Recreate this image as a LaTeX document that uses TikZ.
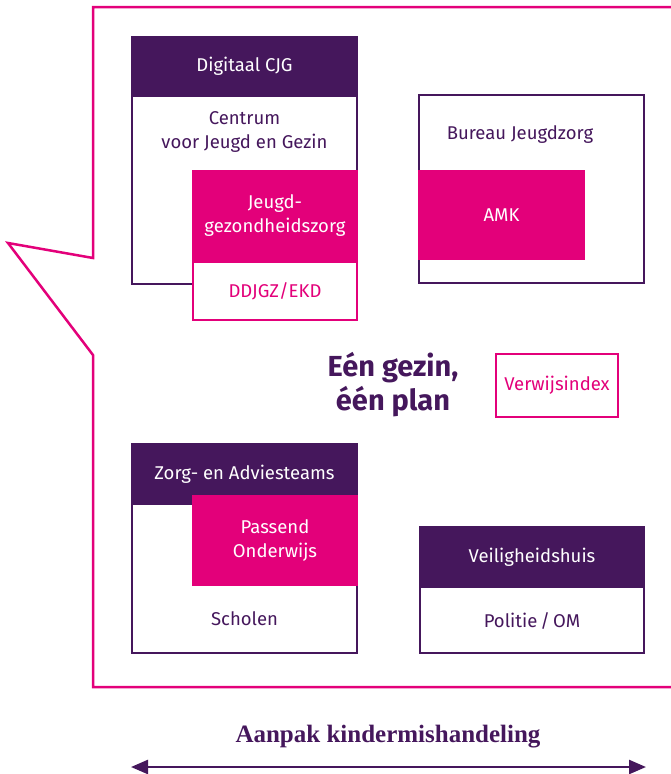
\documentclass[tikz,border=0pt]{standalone}
\usepackage{fontspec}
\setmainfont{Fira Sans}
\newfontfamily\serifb{Liberation Serif}
\usetikzlibrary{arrows.meta}
\definecolor{kpurple}{RGB}{69,23,92}
\definecolor{kpink}{RGB}{227,0,122}
\tikzset{
  txt/.style={font=\fontsize{18.5}{24}\selectfont},
  outbox/.style={draw=kpurple, line width=2pt, fill=white, inner sep=0pt},
  headbox/.style={fill=kpurple, draw=none, text=white, inner sep=0pt, align=center, txt},
  pinkbox/.style={fill=kpink, draw=none, text=white, inner sep=0pt, align=center, txt},
  pinkline/.style={draw=kpink, line width=2pt, fill=white, text=kpink, inner sep=0pt, align=center, txt},
  lbl/.style={text=kpurple, align=center, inner sep=0pt, txt},
}
\begin{document}
\begin{tikzpicture}[x=1pt,y=-1pt]
\useasboundingbox[fill=white] (0,0) rectangle (670,774);
% speech bubble
\draw[kpink, line width=2.5pt, line join=miter] (672,7) -- (93,7) -- (93,258) -- (8,243) -- (93,355) -- (93,687) -- (672,687);
% CJG
\node[outbox, minimum width=225pt, minimum height=247pt] (cjgbody) at (244.5,160) {};
\node[headbox, minimum width=227pt, minimum height=61pt] (cjghead) at (244.5,66.5) {Digitaal CJG};
\node[lbl] (cjgtext) at (244.5,132) {Centrum\\voor Jeugd en Gezin};
\node[pinkbox, minimum width=166pt, minimum height=92pt] (jgz) at (275,216) {Jeugd-\\gezondheidszorg};
\node[pinkline, minimum width=164pt, minimum height=58pt] (ddjgz) at (275,291) {DDJGZ/EKD};
% Bureau Jeugdzorg
\node[outbox, minimum width=225pt, minimum height=188pt] (bjz) at (531.5,189) {};
\node[lbl] (bjztext) at (520,135) {Bureau Jeugdzorg};
\node[pinkbox, minimum width=167pt, minimum height=90pt] (amk) at (501.5,215) {AMK};
% title
\node[text=kpurple, align=center, inner sep=0pt, font=\fontsize{29}{34}\selectfont\bfseries] (title) at (393,385) {Eén gezin,\\één plan};
\node[pinkline, minimum width=122pt, minimum height=63pt] (verwijs) at (557,385.5) {Verwijsindex};
% Zorg- en Adviesteams
\node[outbox, minimum width=225pt, minimum height=209pt] (zatbody) at (244.5,548.5) {};
\node[headbox, minimum width=227pt, minimum height=61pt] (zathead) at (244.5,474.5) {Zorg- en Adviesteams};
\node[pinkbox, minimum width=166pt, minimum height=91pt] (passend) at (275,540.5) {Passend\\Onderwijs};
\node[lbl] (scholen) at (244.5,619) {Scholen};
% Veiligheidshuis
\node[outbox, minimum width=224pt, minimum height=126pt] (vhbody) at (532,590) {};
\node[headbox, minimum width=226pt, minimum height=61pt] (vhhead) at (532,557.5) {Veiligheidshuis};
\node[lbl] (politie) at (532,621) {Politie\,/\,OM};
% arrow
\node[text=kpurple, inner sep=0pt, font=\fontsize{25}{30}\selectfont\serifb\bfseries] (aanpak) at (388,737) {Aanpak kindermishandeling};
\coordinate (aL) at (131,767);
\coordinate (aR) at (646,767);
\draw[kpurple, line width=2.5pt, {Triangle[length=17pt,width=14pt]}-{Triangle[length=17pt,width=14pt]}] (aL) -- (aR);
\end{tikzpicture}
\end{document}
